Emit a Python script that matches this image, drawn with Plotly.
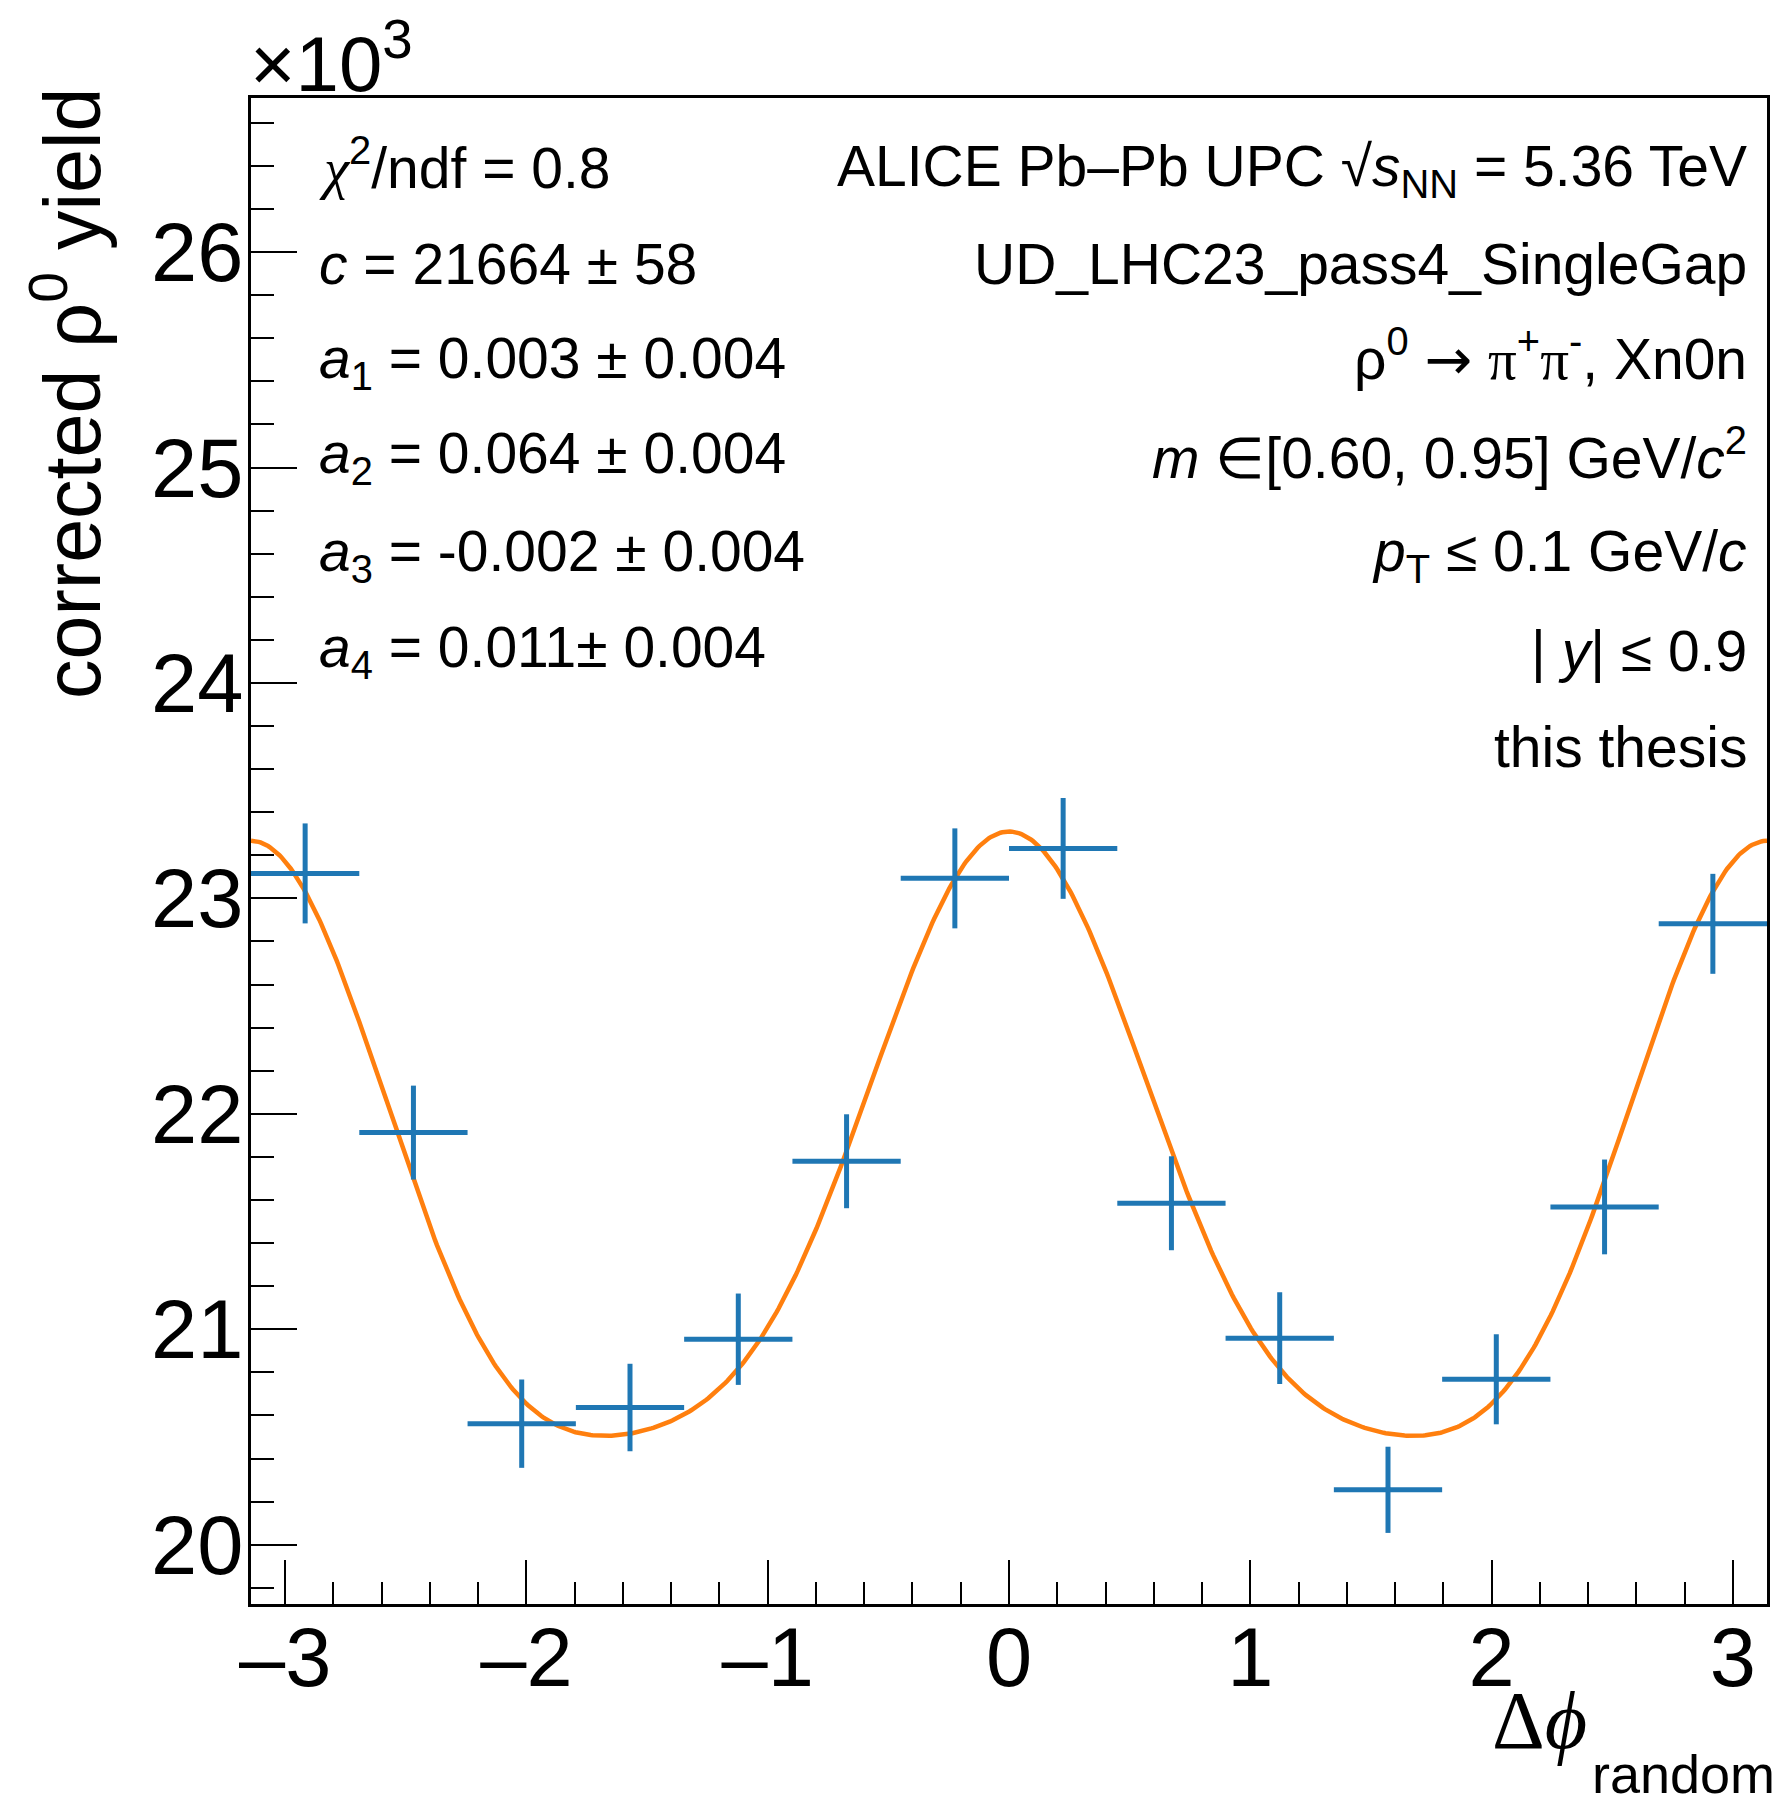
import numpy as np
import plotly.graph_objects as go

# ---------------- data (yield in units of 10^3) ----------------
n_bins = 14
yield_k = [23.116, 21.913, 20.562, 20.637, 20.954, 21.780, 23.093,
           23.232, 21.585, 20.959, 20.255, 20.768, 21.568, 22.882]
yield_err_k = [0.232, 0.218, 0.205, 0.203, 0.212, 0.218, 0.232,
               0.234, 0.218, 0.213, 0.200, 0.209, 0.220, 0.232]

# fit parameters shown on the chart
fit_c = 21664.0
fit_a = [0.003, 0.064, -0.002, 0.011]

x_ticks = [-3, -2, -1, 0, 1, 2, 3]
y_ticks = [20, 21, 22, 23, 24, 25, 26]

SER = "<span style='font-family:\"Liberation Serif\"'>"
ARR = "<span style='font-family:\"DejaVu Sans\"'>"
left_lines = [
    "<i>" + SER + "χ</span></i><sup>2</sup>/ndf = 0.8",
    "<i>c</i> = 21664 ± 58",
    "<i>a</i><sub>1</sub> = 0.003 ± 0.004",
    "<i>a</i><sub>2</sub> = 0.064 ± 0.004",
    "<i>a</i><sub>3</sub> = -0.002 ± 0.004",
    "<i>a</i><sub>4</sub> = 0.011± 0.004",
]
right_lines = [
    "ALICE Pb–Pb UPC √<i>s</i><sub>NN</sub> = 5.36 TeV",
    "UD_LHC23_pass4_SingleGap",
    "ρ<sup>0</sup> " + ARR + "→</span> " + SER + "π</span><sup>+</sup>" + SER + "π</span><sup>-</sup>, Xn0n",
    "<i>m</i> ∈[0.60, 0.95] GeV/<i>c</i><sup>2</sup>",
    "<i>p</i><sub>T</sub> ≤ 0.1 GeV/<i>c</i>",
    "| <i>y</i>| ≤ 0.9",
    "this thesis",
]

# ---------------- geometry helpers ----------------
W, H = 1782, 1803
L, R, T, B = 251, 1770.5, 98, 1604
def xp(px):
    return (px - L) / (R - L)
def yp(py):
    return (B - py) / (B - T)

edges = np.linspace(-np.pi, np.pi, n_bins + 1)
centers = 0.5 * (edges[:-1] + edges[1:])
half_w = 0.5 * (edges[1:] - edges[:-1])

phi = np.linspace(-np.pi, np.pi, 800)
model = fit_c * (1 + sum(a * np.cos((k + 1) * phi) for k, a in enumerate(fit_a))) / 1000.0

BLUE = "#1f77b4"
ORANGE = "#ff7f0e"

fig = go.Figure()
fig.add_trace(go.Scatter(x=phi, y=model, mode="lines",
                         line=dict(color=ORANGE, width=4.5), showlegend=False,
                         hoverinfo="skip"))
fig.add_trace(go.Scatter(
    x=centers, y=yield_k, mode="markers",
    marker=dict(size=0, color=BLUE),
    error_x=dict(type="data", array=half_w, color=BLUE, thickness=5, width=0),
    error_y=dict(type="data", array=yield_err_k, color=BLUE, thickness=5, width=0),
    showlegend=False))

FONT = "Liberation Sans, Arial, sans-serif"
TICKFONT = dict(family=FONT, size=83, color="black")

fig.update_layout(
    width=W, height=H,
    margin=dict(l=L, r=W - R, t=T, b=H - B, pad=0),
    paper_bgcolor="white", plot_bgcolor="white",
    font=dict(family=FONT, color="black"),
    xaxis=dict(range=[-np.pi, np.pi], tickmode="array", tickvals=x_ticks,
               ticktext=[("–" + str(-v)) if v < 0 else str(v) for v in x_ticks],
               ticks="inside", ticklen=44, tickwidth=2, tickcolor="black",
               minor=dict(dtick=0.2, tick0=0, ticks="inside", ticklen=22,
                          tickwidth=2, tickcolor="black"),
               showline=True, linewidth=3, linecolor="black", mirror=True,
               showgrid=False, zeroline=False, tickfont=TICKFONT,
               ticklabelstandoff=-21),
    yaxis=dict(range=[19.725, 26.715], tickmode="array", tickvals=y_ticks,
               ticktext=[str(v) for v in y_ticks],
               ticks="inside", ticklen=46, tickwidth=2, tickcolor="black",
               minor=dict(dtick=0.2, tick0=0, ticks="inside", ticklen=23,
                          tickwidth=2, tickcolor="black"),
               showline=True, linewidth=3, linecolor="black", mirror=True,
               showgrid=False, zeroline=False, tickfont=TICKFONT,
               ticklabelstandoff=-12),
)

ann = []
left_y = [164, 263.9, 361.6, 457.0, 554.7, 651.3]
right_y = [169.6, 263.9, 356, 454, 554.7, 651.3, 746.7]
for i, t in enumerate(left_lines):
    ann.append(dict(text=t, x=xp(317), y=yp(left_y[i]), xref="paper", yref="paper",
                    xanchor="left", yanchor="middle", showarrow=False,
                    font=dict(family=FONT, size=57, color="black")))
for i, t in enumerate(right_lines):
    ann.append(dict(text=t, x=xp(1752), y=yp(right_y[i]), xref="paper", yref="paper",
                    xanchor="right", yanchor="middle", showarrow=False,
                    font=dict(family=FONT, size=57, color="black")))

# x10^3 multiplier
ann.append(dict(text="×10<sup>3</sup>", x=xp(248), y=yp(58), xref="paper", yref="paper",
                xanchor="left", yanchor="middle", showarrow=False,
                font=dict(family=FONT, size=78, color="black")))
# y title
ann.append(dict(text="corrected ρ<sup>0</sup> yield", textangle=-90,
                x=xp(66), y=yp(86), xref="paper", yref="paper",
                xanchor="center", yanchor="top", showarrow=False,
                font=dict(family=FONT, size=79, color="black")))
# x title
ann.append(dict(text="Δ<i>ϕ</i>", x=xp(1592), y=yp(1720), xref="paper", yref="paper",
                xanchor="right", yanchor="middle", showarrow=False,
                font=dict(family="Liberation Serif, DejaVu Serif, serif", size=82, color="black")))
ann.append(dict(text="random", x=xp(1781), y=yp(1774), xref="paper", yref="paper",
                xanchor="right", yanchor="middle", showarrow=False,
                font=dict(family=FONT, size=54, color="black")))
fig.update_layout(annotations=ann)

fig.write_html("out.html")
